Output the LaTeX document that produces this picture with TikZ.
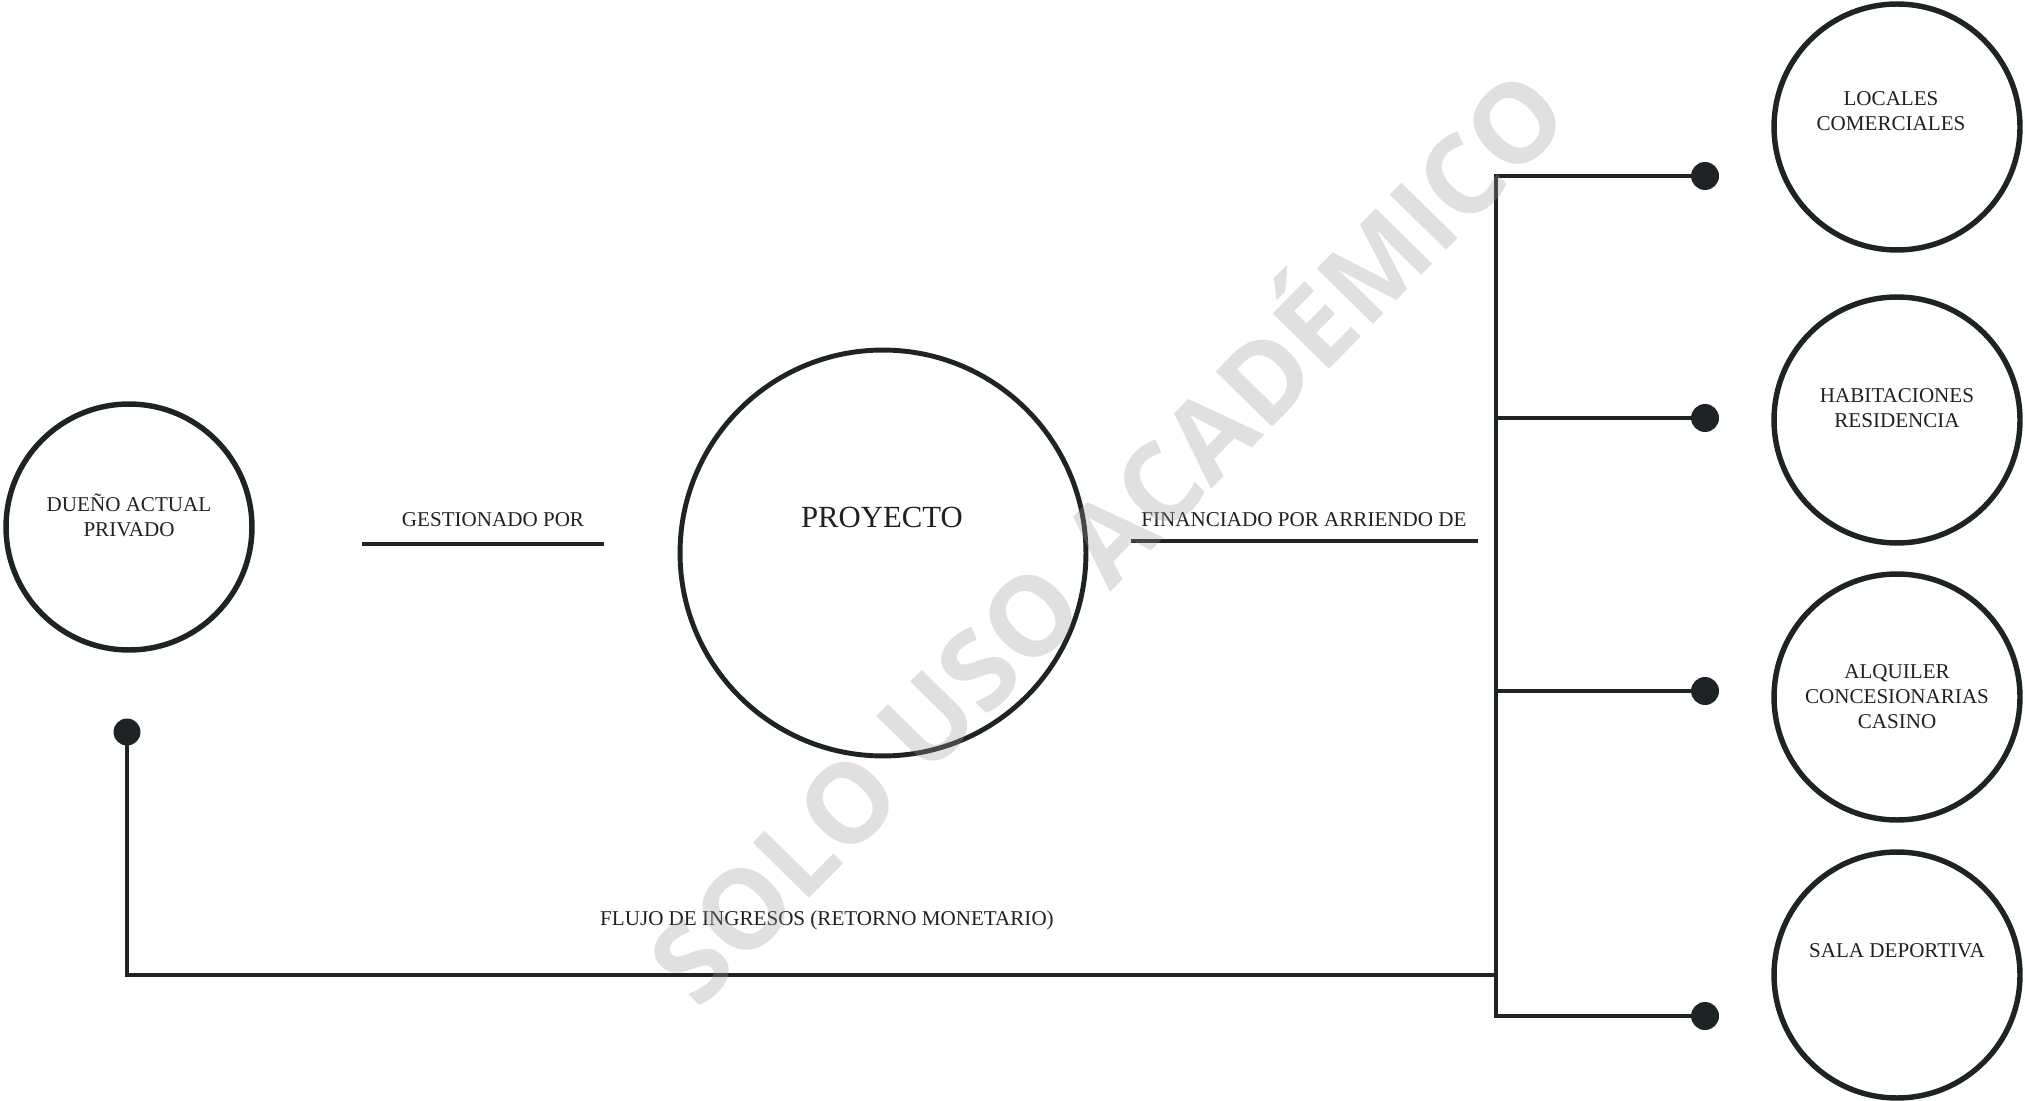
\documentclass[tikz,border=0pt]{standalone}
\usepackage{fontspec}
\setmainfont{Liberation Serif}
\newfontfamily\markfont{Open Sans}
\usetikzlibrary{positioning}
\definecolor{inkdark}{RGB}{30,36,38}
\definecolor{textdark}{RGB}{35,31,32}

\begin{document}
\begin{tikzpicture}[x=0.02cm,y=-0.02cm,
  bubble/.style={draw=inkdark,circle,line width=3.1pt,
                 minimum size=4.92cm,inner sep=0pt},
  bigbubble/.style={bubble,minimum size=8.12cm,line width=2.8pt},
  txt/.style={font=\fontsize{12}{14.2}\selectfont,color=textdark,align=center},
  ln/.style={draw=inkdark,line width=2.7pt},
  dot/.style={circle,fill=inkdark,inner sep=0pt,minimum size=0.56cm},
  sello/.style={font=\markfont\bfseries\fontsize{63}{63}\selectfont,
                text=black!40,opacity=0.3,rotate=45.5}]
\useasboundingbox (0,0) rectangle (2025,1101);

% circles
\node[bubble] (dueno) at (129,527) {};
\node[bigbubble] (proyecto) at (883,553) {};
\node[bubble] (locales) at (1897,127) {};
\node[bubble] (habit) at (1897,420) {};
\node[bubble] (alquiler) at (1897,697) {};
\node[bubble] (sala) at (1897,975) {};

\node[txt] (dueno-t) at (129,515) {DUEÑO ACTUAL\\PRIVADO};
\node[txt,font=\fontsize{17.5}{20}\selectfont] (proyecto-t) at (882,517) {PROYECTO};
\node[txt] (locales-t) at (1891,111) {LOCALES\\COMERCIALES};
\node[txt] (habit-t) at (1897,408) {HABITACIONES\\RESIDENCIA};
\node[txt] (alquiler-t) at (1897,697) {ALQUILER\\CONCESIONARIAS\\CASINO};
\node[txt] (sala-t) at (1897,951) {SALA DEPORTIVA};

% labels with rules
\node[txt] (gestion) at (493,520) {GESTIONADO POR};
\coordinate (gestion-l) at (362,544);
\coordinate (gestion-r) at (604,544);
\draw[ln] (gestion-l) -- (gestion-r);
\node[txt] (financia) at (1304,520) {FINANCIADO POR ARRIENDO DE};
\coordinate (financia-l) at (1131,541);
\coordinate (financia-r) at (1478,541);
\draw[ln] (financia-l) -- (financia-r);

% trunk and branches
\coordinate (t1) at (1496,176);
\coordinate (t2) at (1496,418);
\coordinate (t3) at (1496,691);
\coordinate (t4) at (1496,1016);
\coordinate (tflow) at (1496,975);
\node[dot] (d1) at (1705,176) {};
\node[dot] (d2) at (1705,418) {};
\node[dot] (d3) at (1705,691) {};
\node[dot] (d4) at (1705,1016) {};
\draw[ln] (d1.center) -- (t1) -- (t4) -- (d4.center);
\draw[ln] (t2) -- (d2.center);
\draw[ln] (t3) -- (d3.center);

% return flow
\node[dot,minimum size=0.54cm] (dueno-d) at (127,732) {};
\draw[ln] (dueno-d.center) |- (tflow);
\node[txt] (flujo) at (827,920) {FLUJO DE INGRESOS (RETORNO MONETARIO)};

\node[sello] (marca) at (1100,530) {SOLO USO ACADÉMICO};
\end{tikzpicture}
\end{document}
